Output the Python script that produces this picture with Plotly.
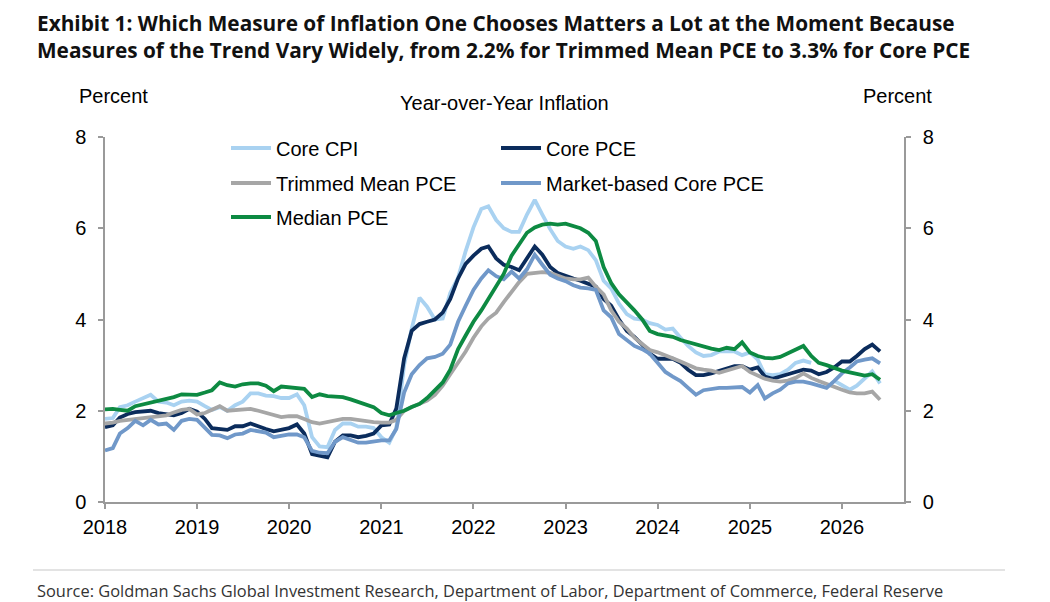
import pandas as pd
import plotly.graph_objects as go

# monthly, Jan 2018 - Jun 2026 (year-over-year %)
months = pd.date_range("2018-01-01", "2026-06-01", freq="MS")

core_cpi = [
    1.82, 1.84, 2.08, 2.12, 2.20, 2.28, 2.35, 2.20, 2.18, 2.12, 2.20, 2.22,
    2.20, 2.10, 2.02, 2.08, 2.00, 2.12, 2.20, 2.38, 2.38, 2.33, 2.32, 2.28,
    2.28, 2.36, 2.12, 1.42, 1.22, 1.20, 1.58, 1.72, 1.72, 1.65, 1.65, 1.62,
    1.42, 1.30, 1.62, 3.00, 3.80, 4.48, 4.28, 4.00, 4.02, 4.58, 4.92, 5.50,
    6.02, 6.42, 6.48, 6.18, 6.00, 5.92, 5.92, 6.30, 6.62, 6.30, 5.98, 5.72,
    5.60, 5.55, 5.60, 5.52, 5.30, 4.85, 4.68, 4.35, 4.12, 4.02, 4.00, 3.92,
    3.88, 3.78, 3.80, 3.60, 3.42, 3.28, 3.20, 3.22, 3.30, 3.30, 3.30, 3.22,
    3.28, 3.12, 2.80, 2.78, 2.80, 2.90, 3.05, 3.10, 3.05, None, None, 2.66,
    2.55, 2.46, 2.55, 2.72, 2.86, 2.60,
]
core_pce = [
    1.64, 1.68, 1.85, 1.93, 1.97, 1.98, 2.00, 1.95, 1.92, 1.90, 1.95, 2.04,
    1.98, 1.82, 1.62, 1.60, 1.58, 1.66, 1.66, 1.72, 1.65, 1.60, 1.55, 1.58,
    1.62, 1.70, 1.50, 1.05, 1.02, 0.98, 1.32, 1.46, 1.46, 1.42, 1.45, 1.50,
    1.68, 1.70, 2.05, 3.15, 3.75, 3.90, 3.95, 4.00, 4.15, 4.45, 4.90, 5.22,
    5.40, 5.55, 5.60, 5.34, 5.20, 5.15, 5.08, 5.35, 5.60, 5.42, 5.15, 5.02,
    4.97, 4.90, 4.85, 4.78, 4.72, 4.45, 4.30, 4.00, 3.75, 3.62, 3.45, 3.25,
    3.14, 3.14, 3.14, 3.05, 2.90, 2.78, 2.78, 2.82, 2.88, 2.92, 2.98, 2.98,
    2.90, 2.95, 2.75, 2.70, 2.76, 2.80, 2.85, 2.90, 2.88, 2.80, 2.85, 2.95,
    3.08, 3.08, 3.20, 3.35, 3.45, 3.30,
]
trimmed_mean_pce = [
    1.72, 1.74, 1.78, 1.80, 1.82, 1.85, 1.87, 1.88, 1.90, 1.96, 2.02, 2.04,
    1.92, 1.95, 2.02, 2.10, 2.00, 2.02, 2.04, 2.04, 2.00, 1.95, 1.90, 1.86,
    1.88, 1.88, 1.82, 1.75, 1.72, 1.76, 1.80, 1.82, 1.82, 1.80, 1.76, 1.75,
    1.74, 1.74, 1.80, 2.00, 2.08, 2.15, 2.22, 2.35, 2.55, 2.80, 3.05, 3.30,
    3.60, 3.85, 4.02, 4.15, 4.38, 4.62, 4.82, 5.00, 5.02, 5.04, 5.02, 4.97,
    4.90, 4.88, 4.88, 4.92, 4.72, 4.55, 4.20, 3.95, 3.80, 3.60, 3.45, 3.33,
    3.28, 3.22, 3.15, 3.08, 3.00, 2.93, 2.90, 2.88, 2.83, 2.88, 2.92, 2.98,
    2.85, 2.76, 2.70, 2.66, 2.64, 2.66, 2.72, 2.82, 2.72, 2.65, 2.58, 2.52,
    2.46, 2.40, 2.38, 2.38, 2.42, 2.24,
]
market_core_pce = [
    1.13, 1.18, 1.50, 1.62, 1.78, 1.68, 1.80, 1.70, 1.72, 1.58, 1.78, 1.82,
    1.80, 1.62, 1.47, 1.46, 1.40, 1.48, 1.50, 1.58, 1.55, 1.52, 1.42, 1.46,
    1.48, 1.48, 1.42, 1.12, 1.08, 1.07, 1.32, 1.42, 1.35, 1.30, 1.30, 1.33,
    1.35, 1.35, 1.60, 2.40, 2.80, 3.00, 3.15, 3.18, 3.25, 3.45, 3.95, 4.30,
    4.65, 4.90, 5.08, 4.95, 4.88, 5.05, 4.90, 5.10, 5.42, 5.20, 4.98, 4.90,
    4.84, 4.75, 4.70, 4.68, 4.65, 4.20, 4.05, 3.68, 3.55, 3.42, 3.35, 3.25,
    3.05, 2.85, 2.75, 2.65, 2.50, 2.35, 2.45, 2.48, 2.50, 2.50, 2.52, 2.52,
    2.40, 2.56, 2.27, 2.38, 2.46, 2.60, 2.64, 2.64, 2.60, 2.56, 2.50, 2.65,
    2.82, 2.95, 3.08, 3.12, 3.15, 3.04,
]
median_pce = [
    2.03, 2.04, 2.02, 2.00, 2.10, 2.14, 2.19, 2.22, 2.26, 2.30, 2.36, 2.36,
    2.35, 2.40, 2.45, 2.62, 2.56, 2.53, 2.58, 2.60, 2.60, 2.55, 2.43, 2.53,
    2.52, 2.50, 2.48, 2.30, 2.36, 2.32, 2.30, 2.30, 2.25, 2.20, 2.15, 2.08,
    1.95, 1.90, 1.95, 2.00, 2.08, 2.15, 2.28, 2.45, 2.62, 2.90, 3.35, 3.65,
    3.95, 4.20, 4.45, 4.70, 5.00, 5.40, 5.65, 5.90, 6.02, 6.08, 6.10, 6.08,
    6.10, 6.05, 6.00, 5.90, 5.72, 5.15, 4.80, 4.55, 4.38, 4.20, 4.00, 3.75,
    3.68, 3.65, 3.62, 3.55, 3.50, 3.45, 3.40, 3.36, 3.33, 3.38, 3.35, 3.50,
    3.28, 3.20, 3.16, 3.15, 3.18, 3.26, 3.32, 3.42, 3.20, 3.05, 3.00, 2.94,
    2.88, 2.84, 2.80, 2.77, 2.80, 2.68,
]

# name, values, colour, legend row
series = [
    ("Core CPI", core_cpi, "#a9d2f1", "legend"),
    ("Core PCE", core_pce, "#0b2c5c", "legend"),
    ("Trimmed Mean PCE", trimmed_mean_pce, "#a6a6a6", "legend2"),
    ("Market-based Core PCE", market_core_pce, "#7098c9", "legend2"),
    ("Median PCE", median_pce, "#0d8a42", "legend3"),
]

axis_font = dict(family="Arial, Liberation Sans, sans-serif", size=20, color="black")
axis_grey = "#9a9a9a"

# plot area in pixels, used to place the text around it
L, R, T, B = 105, 904, 137, 502


def px_x(p):
    return (p - L) / (R - L)


def px_y(p):
    return (B - p) / (B - T)


fig = go.Figure()

for name, values, color, leg in series:
    fig.add_trace(go.Scatter(
        x=months, y=values, name=name, mode="lines",
        line=dict(color=color, width=3.8),
        legend=leg, connectgaps=False,
    ))

# empty trace so the right hand axis gets drawn
fig.add_trace(go.Scatter(x=[None], y=[None], yaxis="y2", showlegend=False, hoverinfo="skip"))

legend_base = dict(
    orientation="h", x=px_x(226), xanchor="left", yanchor="middle",
    bgcolor="rgba(0,0,0,0)", font=axis_font, itemwidth=40,
    entrywidth=215, entrywidthmode="pixels", traceorder="normal",
)

fig.update_layout(
    width=1050, height=602,
    margin=dict(l=L, r=1050 - R, t=T, b=602 - B),
    paper_bgcolor="white", plot_bgcolor="white",
    font=axis_font,
    showlegend=True,
    legend=dict(legend_base, y=px_y(148)),
    legend2=dict(legend_base, y=px_y(183)),
    legend3=dict(legend_base, y=px_y(217)),
    xaxis=dict(
        type="date", range=["2018-01-01", "2026-09-04"],
        dtick="M12", tick0="2018-01-01", tickformat="%Y",
        showgrid=False, zeroline=False,
        showline=True, linecolor=axis_grey, linewidth=1.5,
        ticks="outside", ticklen=5, tickcolor=axis_grey, tickwidth=1.5,
        tickfont=axis_font, ticklabelstandoff=1,
    ),
    yaxis=dict(
        range=[0, 8], dtick=2, showgrid=False, zeroline=False,
        showline=True, linecolor=axis_grey, linewidth=1.5,
        ticks="outside", ticklen=5, tickcolor=axis_grey, tickwidth=1.5,
        tickfont=axis_font, ticklabelstandoff=8,
    ),
    yaxis2=dict(
        range=[0, 8], dtick=2, overlaying="y", side="right",
        showgrid=False, zeroline=False,
        showline=True, linecolor=axis_grey, linewidth=1.5,
        ticks="outside", ticklen=5, tickcolor=axis_grey, tickwidth=1.5,
        tickfont=axis_font, ticklabelstandoff=8,
    ),
)

title_font = dict(family="Open Sans, Noto Sans, sans-serif", size=20.8, color="#111111", weight=700)
source_font = dict(family="Open Sans, Noto Sans, sans-serif", size=16.4, color="#333333")

fig.add_annotation(text="Exhibit 1: Which Measure of Inflation One Chooses Matters a Lot at the Moment Because",
                   x=px_x(35), y=px_y(23), xref="paper", yref="paper",
                   xanchor="left", yanchor="middle", showarrow=False, font=title_font)
fig.add_annotation(text="Measures of the Trend Vary Widely, from 2.2% for Trimmed Mean PCE to 3.3% for Core PCE",
                   x=px_x(35), y=px_y(50), xref="paper", yref="paper",
                   xanchor="left", yanchor="middle", showarrow=False, font=title_font)
fig.add_annotation(text="Percent", x=px_x(113), y=px_y(96), xref="paper", yref="paper",
                   xanchor="center", yanchor="middle", showarrow=False, font=axis_font)
fig.add_annotation(text="Percent", x=px_x(897), y=px_y(96), xref="paper", yref="paper",
                   xanchor="center", yanchor="middle", showarrow=False, font=axis_font)
fig.add_annotation(text="Year-over-Year Inflation", x=px_x(504), y=px_y(103), xref="paper", yref="paper",
                   xanchor="center", yanchor="middle", showarrow=False, font=axis_font)
fig.add_annotation(text="Source: Goldman Sachs Global Investment Research, Department of Labor, "
                        "Department of Commerce, Federal Reserve",
                   x=px_x(35), y=px_y(590), xref="paper", yref="paper",
                   xanchor="left", yanchor="middle", showarrow=False, font=source_font)

# thin rule above the source line
fig.add_shape(type="line", xref="paper", yref="paper",
              x0=px_x(33), x1=px_x(1005), y0=px_y(570), y1=px_y(570),
              line=dict(color="#c8c8c8", width=1.2))

# drop the page's default body margin so the figure sits at the window corner
fig.write_html("out.html", config={"displayModeBar": False},
               post_script="document.body.style.margin='0px';")
